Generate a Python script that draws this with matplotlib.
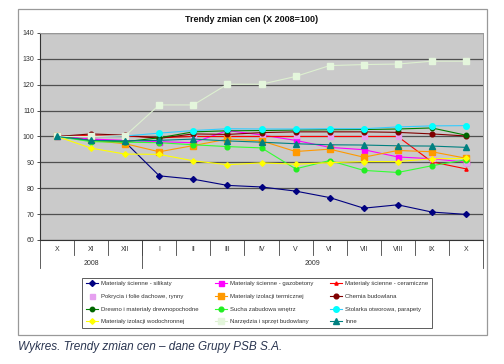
import matplotlib
matplotlib.use('Agg')
import matplotlib.pyplot as plt
from matplotlib.patches import Rectangle
import numpy as np

plt.rcParams['font.family'] = ['Liberation Sans', 'DejaVu Sans']

months = ['X', 'XI', 'XII', 'I', 'II', 'III', 'IV', 'V', 'VI', 'VII', 'VIII', 'IX', 'X']
years = ['2008', '2009']
year_spans = [(0, 2), (3, 12)]

silikaty = [100, 98.8, 97.8, 84.8, 83.5, 81.1, 80.5, 78.9, 76.4, 72.3, 73.6, 70.8, 69.9]
gazobetony = [100, 99.0, 98.5, 98.0, 97.6, 102.3, 100.6, 98.5, 95.8, 94.9, 92.1, 91.4, 90.1]
ceramiczne = [100, 100.5, 100.2, 99.5, 100.0, 100.0, 100.0, 100.0, 100.0, 100.0, 100.0, 90.2, 87.5]
pokrycia = [100, 100.2, 100.0, 99.5, 100.2, 101.0, 100.8, 100.6, 100.3, 100.3, 100.2, 91.5, 90.3]
termiczna = [100, 98.5, 97.2, 94.1, 96.5, 99.0, 98.3, 94.2, 95.1, 92.0, 94.6, 94.1, 91.6]
chemia = [100, 101.0, 100.5, 99.3, 101.0, 100.8, 101.5, 101.8, 101.8, 101.8, 101.6, 101.0, 100.2]
drewno = [100, 98.5, 98.0, 99.5, 101.8, 102.2, 102.3, 102.5, 102.6, 102.7, 102.9, 103.3, 100.5]
sucha = [100, 98.0, 97.8, 97.6, 96.8, 96.1, 95.6, 87.5, 90.7, 86.9, 86.1, 88.7, 91.0]
stolarka = [100, 100.0, 100.2, 101.3, 102.3, 103.0, 102.9, 102.9, 103.0, 103.0, 103.7, 104.1, 104.2]
wodochronna = [100, 95.5, 93.2, 93.1, 90.6, 89.1, 89.8, 89.3, 89.9, 90.3, 90.3, 91.4, 91.5]
narzedzia = [100, 100.0, 100.3, 112.2, 112.2, 120.2, 120.2, 123.2, 127.4, 127.8, 128.0, 129.1, 129.1]
inne = [100, 98.5, 98.3, 98.5, 99.0, 98.3, 97.8, 97.2, 96.8, 96.7, 96.4, 96.3, 95.8]

series = [
    ('Materiały ścienne - silikaty', silikaty, '#000080', '#000080', 'D', 3.0),
    ('Materiały ścienne - gazobetony', gazobetony, '#FF00FF', '#FF00FF', 's', 3.6),
    ('Materiały ścienne - ceramiczne', ceramiczne, '#FF0000', '#FF0000', '^', 2.3),
    ('Pokrycia i folie dachowe, rynny', pokrycia, 'none', '#E6A0F0', 's', 3.6),
    ('Materiały izolacji termicznej', termiczna, '#FF9900', '#FF9900', 's', 4.0),
    ('Chemia budowlana', chemia, '#800000', '#800000', 'o', 3.4),
    ('Drewno i materiały drewnopochodne', drewno, '#008000', '#006600', 'o', 3.2),
    ('Sucha zabudowa wnętrz', sucha, '#33FF33', '#22EE22', 'o', 3.4),
    ('Stolarka otworowa, parapety', stolarka, '#33CCFF', '#00FFFF', 'o', 4.0),
    ('Materiały izolacji wodochronnej', wodochronna, '#FFFF00', '#FFFF00', 'D', 2.8),
    ('Narzędzia i sprzęt budowlany', narzedzia, '#DDF0D0', '#E4F6DC', 's', 4.0),
    ('Inne', inne, '#008080', '#008080', '^', 4.0),
]

fig = plt.figure(figsize=(5.04, 3.64), dpi=100)
W, H = 504, 364

# outer chart frame
fig.patches.append(Rectangle((18 / W, 1 - 335 / H), 469 / W, 326 / H, transform=fig.transFigure,
                             fill=False, edgecolor='#999999', linewidth=0.9))

ax = fig.add_axes([40 / W, 1 - 240 / H, 443 / W, 207 / H])
ax.set_facecolor('#CACACA')
x = np.arange(len(months))

handles = []
for name, vals, lc, mc, mk, ms in series:
    ls = '-' if lc != 'none' else 'none'
    h, = ax.plot(x, vals, color=lc if lc != 'none' else mc, linestyle=ls, linewidth=0.8,
                 marker=mk, markersize=ms, markerfacecolor=mc, markeredgecolor=mc, label=name)
    handles.append(h)

ax.set_xlim(-0.5, len(months) - 0.5)
ax.set_ylim(60, 140)
ax.set_yticks(range(60, 141, 10))
ax.yaxis.grid(True, color='#505050', linewidth=0.9)
ax.set_axisbelow(True)
ax.tick_params(axis='y', labelsize=5, colors='#333333', length=2, width=0.6, pad=2)
ax.set_xticks([])
for s in ['top', 'right']:
    ax.spines[s].set_color('#9a9a9a')
    ax.spines[s].set_linewidth(0.7)
for s in ['left', 'bottom']:
    ax.spines[s].set_color('#333333')
    ax.spines[s].set_linewidth(0.8)

# two-level category axis
for i, m in enumerate(months):
    ax.text(i, -0.048, m, transform=ax.get_xaxis_transform(), ha='center', va='center',
            fontsize=5, color='#333333')
for b in np.arange(0.5, len(months) - 1, 1):
    ax.plot([b, b], [0, -0.072], transform=ax.get_xaxis_transform(), color='#444444',
            linewidth=0.6, clip_on=False)
for b in [-0.5, 2.5, len(months) - 0.5]:
    ax.plot([b, b], [0, -0.135], transform=ax.get_xaxis_transform(), color='#444444',
            linewidth=0.6, clip_on=False)
for yr, (a, b) in zip(years, year_spans):
    ax.text((a + b) / 2, -0.115, yr, transform=ax.get_xaxis_transform(), ha='center',
            va='center', fontsize=5, color='#333333')

fig.text(252 / W, 1 - 19 / H, 'Trendy zmian cen (X 2008=100)', ha='center', va='center',
         fontsize=6.5, fontweight='bold', color='#111111')

# legend filled row by row like the original
order = [0, 3, 6, 9, 1, 4, 7, 10, 2, 5, 8, 11]
leg = fig.legend([handles[i] for i in order], [series[i][0] for i in order], ncol=3,
                 loc='lower left', bbox_to_anchor=(82 / W, 1 - 328 / H, 350 / W, 52 / H),
                 mode='expand', fontsize=4.3, frameon=True, fancybox=False, borderpad=0.6,
                 labelspacing=1.25, handlelength=2.0, handletextpad=0.6, columnspacing=1.0,
                 borderaxespad=0)
leg.get_frame().set_edgecolor('#333333')
leg.get_frame().set_linewidth(0.7)
for t in leg.get_texts():
    t.set_color('#333333')

fig.text(18 / W, 1 - 347 / H, 'Wykres. Trendy zmian cen \u2013 dane Grupy PSB S.A.', ha='left',
         va='center', fontsize=8.5, fontstyle='italic', color='#2a3550')

fig.savefig('out.png', dpi=100)
